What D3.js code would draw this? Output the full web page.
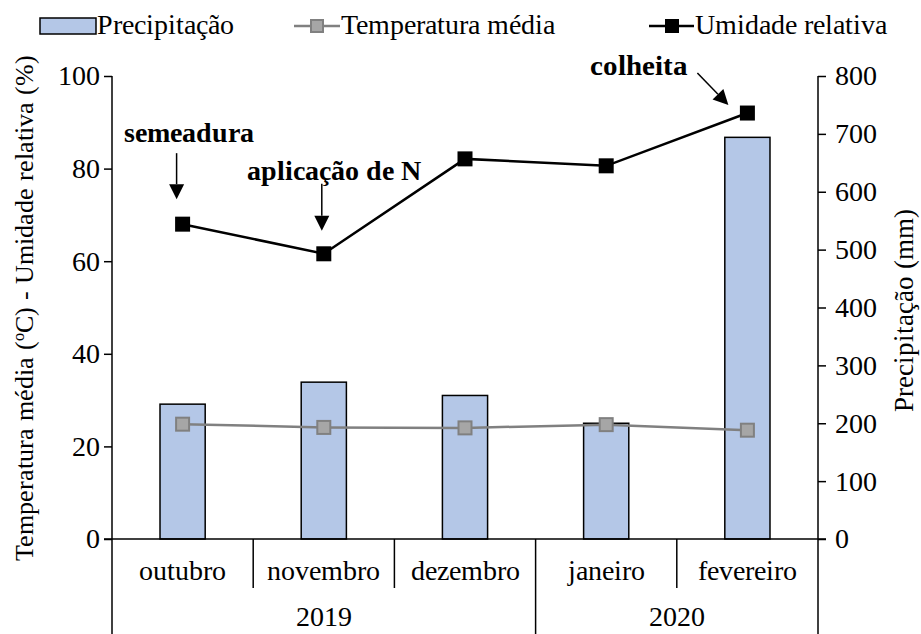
<!DOCTYPE html>
<html>
<head>
<meta charset="utf-8">
<script src="https://cdn.jsdelivr.net/npm/d3@7"></script>
<style>
@font-face { font-family: "ChartSerif"; font-weight: normal; src: local("Liberation Serif"), local("LiberationSerif"), local("LiberationSerif-Regular"); }
@font-face { font-family: "ChartSerif"; font-weight: bold; src: local("Liberation Serif Bold"), local("LiberationSerif-Bold"); }
</style>
</head>
<body style="margin:0">
<script>
// data
var months = ["outubro", "novembro", "dezembro", "janeiro", "fevereiro"];
var years = [{ label: "2019", from: 0, to: 3 }, { label: "2020", from: 3, to: 5 }];
var precipitacao = [233, 271, 248, 200, 694];   // mm, right axis
var temperatura = [24.8, 24.1, 24.0, 24.7, 23.5]; // ºC, left axis
var umidade = [68.0, 61.6, 82.1, 80.6, 92.0];     // %, left axis
var leftTicks = [0, 20, 40, 60, 80, 100];
var rightTicks = [0, 100, 200, 300, 400, 500, 600, 700, 800];
var notes = [
    { label: "semeadura", idx: 0 },
    { label: "aplicação de N", idx: 1 },
    { label: "colheita", idx: 4 }
];

var SERIF = "ChartSerif, 'Liberation Serif', Tinos, serif";
var W = 921, H = 634;
var margin = { top: 76, right: 103, bottom: 95, left: 112 },
    width = W - margin.left - margin.right,
    height = H - margin.top - margin.bottom;

var root = d3.select("body")
    .append("svg")
    .attr("width", W)
    .attr("height", H)
    .attr("font-family", SERIF);
var svg = root.append("g")
    .attr("transform", "translate(" + margin.left + "," + margin.top + ")");

var x = d3.scaleBand().domain(months).range([0, width]);
var y = d3.scaleLinear().domain([0, 100]).range([height, 0]);
var y2 = d3.scaleLinear().domain([0, 800]).range([height, 0]);

// bars
svg.selectAll(".bar")
    .data(precipitacao)
    .enter()
    .append("rect")
    .attr("x", function (d, i) { return x(months[i]) + x.bandwidth() * 0.34 })
    .attr("width", x.bandwidth() * 0.32)
    .attr("y", function (d) { return y2(d) })
    .attr("height", function (d) { return height - y2(d) })
    .attr("fill", "#b4c7e7")
    .attr("stroke", "#000")
    .attr("stroke-width", 1.5);

// left axis
var yAxis = svg.append("g")
    .call(d3.axisLeft(y).tickValues(leftTicks).tickSize(8).tickPadding(4))
    .attr("font-family", SERIF)
    .attr("font-size", 28);
yAxis.select(".domain").remove();
yAxis.selectAll("line").attr("stroke-width", 1.5);
svg.append("line")
    .attr("x1", 0).attr("x2", 0)
    .attr("y1", 0).attr("y2", H - margin.top)
    .attr("stroke", "#000").attr("stroke-width", 1.5);

// right axis
var y2Axis = svg.append("g")
    .attr("transform", "translate(" + width + ",0)")
    .call(d3.axisRight(y2).tickValues(rightTicks).tickSize(8).tickPadding(9))
    .attr("font-family", SERIF)
    .attr("font-size", 28);
y2Axis.select(".domain").remove();
y2Axis.selectAll("line").attr("stroke-width", 1.5);
svg.append("line")
    .attr("x1", width).attr("x2", width)
    .attr("y1", 0).attr("y2", H - margin.top)
    .attr("stroke", "#000").attr("stroke-width", 1.5);

// x axis line
svg.append("line")
    .attr("x1", -8).attr("x2", width + 8)
    .attr("y1", height).attr("y2", height)
    .attr("stroke", "#000").attr("stroke-width", 1.5);

// month dividers
var yearStarts = years.map(function (d) { return d.from });
svg.selectAll(".div")
    .data(months.slice(1))
    .enter()
    .append("line")
    .attr("x1", function (d) { return x(d) })
    .attr("x2", function (d) { return x(d) })
    .attr("y1", height)
    .attr("y2", function (d, i) { return yearStarts.indexOf(i + 1) >= 0 ? H - margin.top : height + 49 })
    .attr("stroke", "#000").attr("stroke-width", 1.5);

// month labels
svg.selectAll(".month")
    .data(months)
    .enter()
    .append("text")
    .attr("x", function (d) { return x(d) + x.bandwidth() / 2 })
    .attr("y", height + 41)
    .attr("text-anchor", "middle")
    .attr("font-size", 28)
    .text(function (d) { return d });

// year labels
svg.selectAll(".year")
    .data(years)
    .enter()
    .append("text")
    .attr("x", function (d) { return (x(months[d.from]) + x(months[d.to - 1]) + x.bandwidth()) / 2 })
    .attr("y", height + 87)
    .attr("text-anchor", "middle")
    .attr("font-size", 28)
    .text(function (d) { return d.label });

// lines
var cx = function (d, i) { return x(months[i]) + x.bandwidth() / 2 };
var line = d3.line().x(cx).y(function (d) { return y(d) });

svg.append("path")
    .datum(temperatura)
    .attr("fill", "none")
    .attr("stroke", "#808080")
    .attr("stroke-width", 2.5)
    .attr("d", line);
svg.selectAll(".tmark")
    .data(temperatura)
    .enter()
    .append("rect")
    .attr("x", function (d, i) { return cx(d, i) - 6.5 })
    .attr("y", function (d) { return y(d) - 6.5 })
    .attr("width", 13).attr("height", 13)
    .attr("fill", "#a6a6a6")
    .attr("stroke", "#808080")
    .attr("stroke-width", 2);

svg.append("path")
    .datum(umidade)
    .attr("fill", "none")
    .attr("stroke", "#000")
    .attr("stroke-width", 2.5)
    .attr("d", line);
svg.selectAll(".umark")
    .data(umidade)
    .enter()
    .append("rect")
    .attr("x", function (d, i) { return cx(d, i) - 7.5 })
    .attr("y", function (d) { return y(d) - 7.5 })
    .attr("width", 15).attr("height", 15)
    .attr("fill", "#000");

// annotation arrows (heads drawn as paths)
function arrow(x1, y1, x2, y2) {
    var a = Math.atan2(y2 - y1, x2 - x1), L = 15, w = 7.5;
    var bx = x2 - L * Math.cos(a), by = y2 - L * Math.sin(a);
    svg.append("line")
        .attr("x1", x1).attr("y1", y1).attr("x2", bx).attr("y2", by)
        .attr("stroke", "#000").attr("stroke-width", 1.5);
    svg.append("path")
        .attr("d", "M" + x2 + "," + y2 +
            "L" + (bx + w * Math.sin(a)) + "," + (by - w * Math.cos(a)) +
            "L" + (bx - w * Math.sin(a)) + "," + (by + w * Math.cos(a)) + "Z")
        .attr("fill", "#000");
}

var n0 = notes[0], n1 = notes[1], n2 = notes[2];
var ax0 = cx(0, n0.idx) - 6, ax1 = cx(0, n1.idx) - 2;

svg.append("text")
    .attr("x", ax0 + 12).attr("y", 142 - margin.top)
    .attr("text-anchor", "middle")
    .attr("font-size", 28).attr("font-weight", "bold")
    .text(n0.label);
arrow(ax0, y(umidade[n0.idx]) - 71, ax0, y(umidade[n0.idx]) - 25);

svg.append("text")
    .attr("x", ax1 + 12).attr("y", 180 - margin.top)
    .attr("text-anchor", "middle")
    .attr("font-size", 28).attr("font-weight", "bold")
    .text(n1.label);
arrow(ax1, y(umidade[n1.idx]) - 70, ax1, y(umidade[n1.idx]) - 23);

var c2 = cx(0, n2.idx);
svg.append("text")
    .attr("x", c2 - 59).attr("y", 75 - margin.top)
    .attr("text-anchor", "end")
    .attr("font-size", 29).attr("font-weight", "bold")
    .text(n2.label);
arrow(c2 - 50, y(umidade[n2.idx]) - 40, c2 - 19, y(umidade[n2.idx]) - 8);

// axis titles
svg.append("text")
    .attr("transform", "rotate(-90)")
    .attr("x", -height / 2)
    .attr("y", -margin.left + 33)
    .attr("text-anchor", "middle")
    .attr("font-size", 25.5)
    .text("Temperatura média (ºC) - Umidade relativa (%)");

svg.append("text")
    .attr("transform", "rotate(-90)")
    .attr("x", -height / 2 - 3)
    .attr("y", width + 95)
    .attr("text-anchor", "middle")
    .attr("font-size", 27)
    .text("Precipitação (mm)");

// legend
var legend = root.append("g").attr("font-size", 28);
legend.append("rect")
    .attr("x", 40).attr("y", 18).attr("width", 56).attr("height", 16)
    .attr("fill", "#b4c7e7").attr("stroke", "#000").attr("stroke-width", 1.5);
legend.append("text").attr("x", 97).attr("y", 34).text("Precipitação");

legend.append("line").attr("x1", 294).attr("x2", 340).attr("y1", 26).attr("y2", 26)
    .attr("stroke", "#808080").attr("stroke-width", 2.5);
legend.append("rect").attr("x", 311).attr("y", 20).attr("width", 12).attr("height", 12)
    .attr("fill", "#a6a6a6").attr("stroke", "#808080").attr("stroke-width", 2);
legend.append("text").attr("x", 341).attr("y", 34).text("Temperatura média");

legend.append("line").attr("x1", 649).attr("x2", 694).attr("y1", 26).attr("y2", 26)
    .attr("stroke", "#000").attr("stroke-width", 2.5);
legend.append("rect").attr("x", 665).attr("y", 19).attr("width", 14).attr("height", 14)
    .attr("fill", "#000");
legend.append("text").attr("x", 695).attr("y", 34).text("Umidade relativa");
</script>
</body>
</html>
